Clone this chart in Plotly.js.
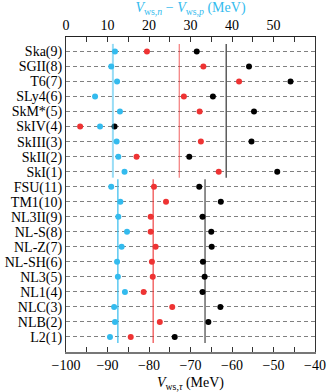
<!DOCTYPE html>
<html><head><meta charset="utf-8">
<script src="https://cdn.plot.ly/plotly-3.0.1.min.js"></script>
<style>html,body{margin:0;padding:0;background:#fff}#chart{width:329px;height:392px}</style>
</head><body><div id="chart"></div>
<script>
// Row labels, top to bottom
const models = ["Ska(9)","SGII(8)","T6(7)","SLy4(6)","SkM*(5)","SkIV(4)","SkIII(3)","SkII(2)","SkI(1)",
  "FSU(11)","TM1(10)","NL3II(9)","NL-S(8)","NL-Z(7)","NL-SH(6)","NL3(5)","NL1(4)","NLC(3)","NLB(2)","L2(1)"];
const groups = ["Skyrme","Skyrme","Skyrme","Skyrme","Skyrme","Skyrme","Skyrme","Skyrme","Skyrme",
  "RMF","RMF","RMF","RMF","RMF","RMF","RMF","RMF","RMF","RMF","RMF"];
// V_ws,n - V_ws,p (MeV), top axis
const vDiff = [11.8,10.9,12.3,7.0,13.0,8.2,12.2,12.6,14.1, 10.9,13.1,12.6,14.7,13.4,12.3,12.5,14.2,11.6,11.8,10.6];
// V_ws,n (MeV), bottom axis, black
const vN = [-68.5,-55.9,-45.9,-64.6,-54.7,-88.3,-55.3,-70.3,-49.1, -67.9,-62.7,-67.1,-65.0,-64.9,-67.0,-66.6,-67.1,-62.8,-65.7,-73.8];
// V_ws,p (MeV), bottom axis, red
const vP = [-80.5,-66.9,-58.3,-71.6,-67.8,-96.6,-67.5,-83.0,-63.2, -78.8,-75.9,-79.6,-79.6,-78.4,-79.3,-79.1,-81.3,-74.4,-77.4,-84.4];
// Group averages
const groupNames = ["Skyrme","RMF"];
const meanDiff = [11.3, 12.5];
const meanN = [-61.4, -66.5];
const meanP = [-72.7, -79.0];

const CYAN = "#33bbee", RED = "#ee3333", BLACK = "#000000";
const n = models.length;
const yPos = models.map((_, i) => n - i);

const traces = [];
const lineStyles = {
  Skyrme: {diff: {c: "rgba(51,187,238,0.5)", w: 2}, p: {c: "rgba(238,51,51,0.6)", w: 1.3}, n: {c: "#333", w: 1.2}},
  RMF:    {diff: {c: CYAN, w: 1.2}, p: {c: RED, w: 1.1}, n: {c: "#333", w: 1.1}}
};
groupNames.forEach((g, gi) => {
  const ys = yPos.filter((_, i) => groups[i] === g);
  const yTop = Math.max(...ys) + 0.5, yBot = Math.min(...ys) - 0.4;
  const st = lineStyles[g];
  traces.push({x: [meanDiff[gi], meanDiff[gi]], y: [yBot, yTop], xaxis: "x2", yaxis: "y", mode: "lines",
    line: {color: st.diff.c, width: st.diff.w}, hoverinfo: "skip", showlegend: false});
  traces.push({x: [meanP[gi], meanP[gi]], y: [yBot, yTop], xaxis: "x", yaxis: "y", mode: "lines",
    line: {color: st.p.c, width: st.p.w}, hoverinfo: "skip", showlegend: false});
  traces.push({x: [meanN[gi], meanN[gi]], y: [yBot, yTop], xaxis: "x", yaxis: "y", mode: "lines",
    line: {color: st.n.c, width: st.n.w}, hoverinfo: "skip", showlegend: false});
});
traces.push({x: vP, y: yPos, xaxis: "x", yaxis: "y", mode: "markers", name: "V_ws,p",
  marker: {color: RED, size: 6}, showlegend: false});
traces.push({x: vN, y: yPos, xaxis: "x", yaxis: "y", mode: "markers", name: "V_ws,n",
  marker: {color: BLACK, size: 6}, showlegend: false});
traces.push({x: vDiff, y: yPos, xaxis: "x2", yaxis: "y", mode: "markers", name: "diff",
  marker: {color: CYAN, size: 6}, showlegend: false});

const FONT = "Liberation Serif, Times New Roman, serif";
const layout = {
  width: 329, height: 392,
  margin: {l: 66, r: 14, t: 37, b: 40, pad: 0},
  paper_bgcolor: "#fff", plot_bgcolor: "#fff",
  font: {family: FONT, size: 14, color: "#000"},
  showlegend: false,
  xaxis: {
    range: [-100, -40], tickvals: [-100,-90,-80,-70,-60,-50,-40],
    ticks: "inside", ticklen: 5, tickwidth: 1, tickcolor: "#333",
    minor: {dtick: 5, ticks: "inside", ticklen: 5, tickwidth: 1, tickcolor: "#333"},
    showgrid: false, zeroline: false, showline: true, linecolor: "#777", linewidth: 1.5,
    tickfont: {size: 14, family: FONT},
    title: {text: "<i>V</i><sub>ws,<i>τ</i></sub> (MeV)", font: {size: 14, family: FONT}, standoff: 8}
  },
  xaxis2: {
    range: [0, 60], overlaying: "x", side: "top", anchor: "y",
    tickvals: [0,10,20,30,40,50],
    ticks: "inside", ticklen: 5, tickwidth: 1, tickcolor: "#333",
    minor: {dtick: 5, ticks: "inside", ticklen: 5, tickwidth: 1, tickcolor: "#333"},
    showgrid: false, zeroline: false, showline: true, linecolor: "#222", linewidth: 1,
    tickfont: {size: 14, family: FONT},
    title: {text: "<i>V</i><sub>ws,<i>n</i></sub> − <i>V</i><sub>ws,<i>p</i></sub> (MeV)", font: {size: 14, family: FONT, color: CYAN}, standoff: 6}
  },
  yaxis: {
    range: [0, 20.96], tickvals: yPos, ticktext: models,
    ticks: "", showgrid: true, gridcolor: "#808080", gridwidth: 1, griddash: "4px,3px",
    zeroline: false, showline: true, mirror: true, linecolor: "#333", linewidth: 1,
    tickfont: {size: 14, family: FONT}
  }
};
Plotly.newPlot("chart", traces, layout, {staticPlot: true, displayModeBar: false});
</script>
</body></html>
